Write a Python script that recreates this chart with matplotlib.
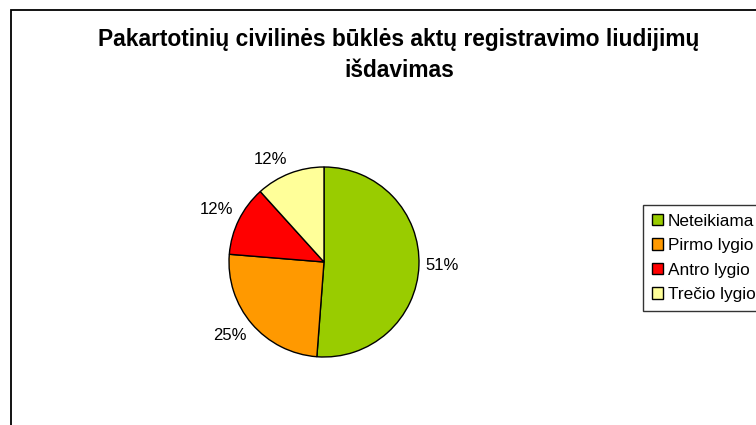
import matplotlib
matplotlib.use("Agg")
import numpy as np
import matplotlib.pyplot as plt
from matplotlib.patches import Rectangle

plt.rcParams['font.family'] = ['Liberation Sans', 'DejaVu Sans']

title = "Pakartotinių civilinės būklės aktų registravimo liudijimų\nišdavimas"
categories = ["Neteikiama", "Pirmo lygio", "Antro lygio", "Trečio lygio"]
values = [51.2, 25.1, 12.0, 11.7]
colors = ["#99CC00", "#FF9900", "#FF0000", "#FFFF99"]

W, H = 756, 425
fig = plt.figure(figsize=(W / 100, H / 100), dpi=100)
fig.patch.set_facecolor("white")

# outer chart-area border (extends beyond the right and bottom edges)
fig.add_artist(Rectangle((11 / W, -0.1), 1.2, 1.1 - 10 / H, transform=fig.transFigure,
                         fill=False, edgecolor="black", linewidth=1.3))

fig.text(399 / W, 1 - 55 / H, title, ha="center", va="center", fontsize=16.4,
         fontweight="bold", linespacing=1.45)

cx, cy, r = 324, 262, 95
ax = fig.add_axes([(cx - r) / W, (H - cy - r) / H, 2 * r / W, 2 * r / H])
wedges, _ = ax.pie(values, colors=colors, startangle=90, counterclock=False,
                   wedgeprops=dict(edgecolor="black", linewidth=1.0))
ax.set_aspect("equal")
ax.set_xlim(-1, 1)
ax.set_ylim(-1, 1)

total = sum(values)
for w, v in zip(wedges, values):
    ang = np.deg2rad((w.theta1 + w.theta2) / 2)
    c, s = np.cos(ang), np.sin(ang)
    ha = "left" if c > 0.15 else ("right" if c < -0.15 else "center")
    va = "bottom" if s > 0.15 else ("top" if s < -0.15 else "center")
    d = 1.07
    ax.text(d * c, d * s, f"{100 * v / total:.0f}%", ha=ha, va=va, fontsize=12)

leg = fig.legend(wedges, categories, loc="upper left",
                 bbox_to_anchor=(643 / W, 1 - 205 / H), frameon=True, fancybox=False,
                 fontsize=12.4, handlelength=0.65, handleheight=0.65, handletextpad=0.3,
                 labelspacing=0.55, borderpad=0.5, borderaxespad=0)
leg.get_frame().set_edgecolor("black")
leg.get_frame().set_linewidth(1.0)

fig.savefig("out.png", dpi=100)
